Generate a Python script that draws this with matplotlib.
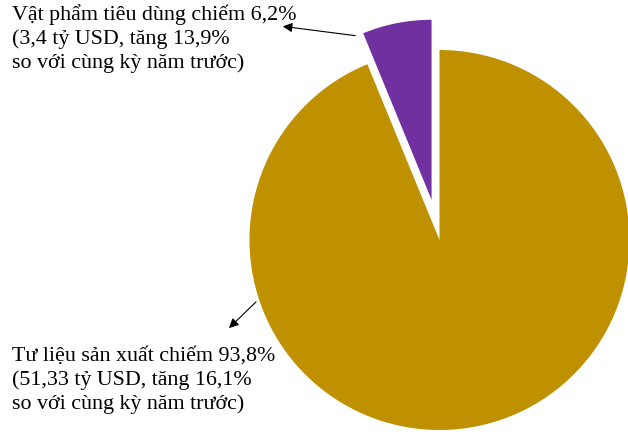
import matplotlib.pyplot as plt

# share of import value
labels = ["Vật phẩm tiêu dùng", "Tư liệu sản xuất"]
shares = [6.2, 93.8]
colors = ["#7030A0", "#BF9000"]
notes = [
    "Vật phẩm tiêu dùng chiếm 6,2%\n(3,4 tỷ USD, tăng 13,9%\nso với cùng kỳ năm trước)",
    "Tư liệu sản xuất chiếm 93,8%\n(51,33 tỷ USD, tăng 16,1%\nso với cùng kỳ năm trước)",
]

W, H = 628, 434
fig = plt.figure(figsize=(W / 100, H / 100), dpi=100)
ax = fig.add_axes([0, 0, 1, 1])

R = 190
# explode is in data units here (pixels), since radius is in pixels too
wedges, _ = ax.pie(shares, colors=colors, startangle=90, counterclock=True,
                   radius=R, center=(439.5, H - 240), explode=[41, 0],
                   frame=True)
ax.set_xlim(0, W)
ax.set_ylim(0, H)
ax.set_aspect("equal")
ax.axis("off")
wedges[0].set_radius(180)

font = dict(family="Liberation Serif", fontsize=15.8, color="black", linespacing=1.3)
ax.text(12, H - 4, notes[0], va="top", ha="left", **font)
ax.text(12, H - 347, notes[1], va="top", ha="left", **font)

arrow = dict(arrowstyle="-|>", color="black", lw=0.8, mutation_scale=14)
ax.annotate("", xy=(280, H - 26), xytext=(358, H - 36), arrowprops=arrow)
ax.annotate("", xy=(227, H - 330), xytext=(258, H - 300), arrowprops=arrow)

fig.savefig("out.png", dpi=100)
